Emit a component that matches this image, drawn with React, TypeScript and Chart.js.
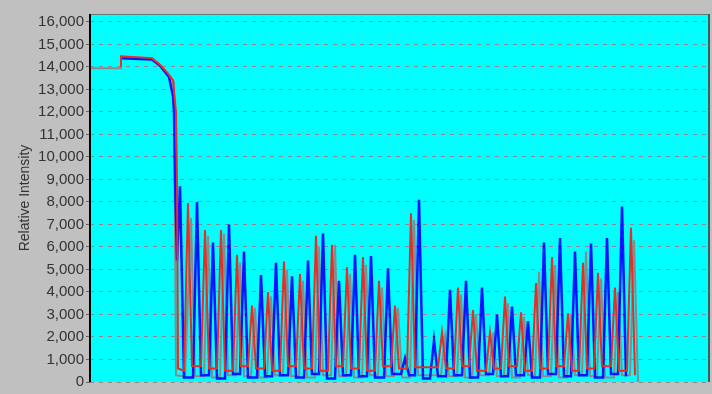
import React, { useEffect, useRef } from "react";
import { Chart, registerables } from "chart.js";

Chart.register(...registerables);

// y axis
const yMin = 0;
const yMax = 16350;
const yTickValues = [0, 1000, 2000, 3000, 4000, 5000, 6000, 7000, 8000, 9000, 10000, 11000, 12000, 13000, 14000, 15000, 16000];
const yTitle = "Relative Intensity";

// x positions are scan positions across the trace (0..620)
const xMax = 620;

// leading plateau (before the peaks start)
const grayLeadX = [0, 31, 31, 62, 70, 78, 83, 84, 86, 95];
const grayLeadY = [13940, 13940, 14440, 14380, 14090, 13700, 13400, 13300, 300, 250];
const redLeadX = [31, 31, 62, 70, 78, 83, 84, 86, 87, 88, 94];
const redLeadY = [14000, 14470, 14390, 14100, 13700, 13400, 12900, 12000, 9000, 600, 500];
const blueLeadX = [31, 62, 70, 79, 83, 84, 85, 87];
const blueLeadY = [14380, 14330, 14050, 13550, 12700, 12000, 9000, 5400];

// blue peaks
const bluePeakX = [90, 107, 123, 139, 154, 171, 186, 202, 218, 233, 249, 265, 281, 298, 315, 329, 344, 360, 376, 392, 407, 422, 438, 454, 470, 485, 501, 517, 532];
const bluePeakY = [8700, 8000, 6200, 7000, 5800, 4750, 5300, 4700, 5400, 6600, 4500, 5650, 5600, 5050, 1050, 8100, 1850, 4100, 4500, 4200, 3000, 3350, 2700, 6200, 6400, 5800, 6150, 6400, 7800];
const blueLowY = [200, 300, 150, 350, 200, 250, 300, 200, 350, 150, 300, 250, 200, 350, 300, 150, 250, 300, 200, 350, 250, 300, 200, 350, 250, 300, 200, 350, 250];

// red peaks
const redPeakX = [98, 115, 131, 147, 162, 178, 194, 210, 226, 242, 257, 273, 289, 305, 321, 352, 368, 383, 400, 415, 431, 446, 462, 478, 493, 508, 525, 541];
const redPeakY = [7950, 6750, 6750, 5650, 3400, 4000, 5350, 4800, 6500, 6100, 5100, 5550, 4500, 3400, 7500, 2200, 4200, 3200, 2200, 3800, 3100, 4400, 5550, 3050, 5300, 4850, 4200, 6850];
const redLowY = [700, 600, 500, 700, 600, 500, 700, 600, 500, 700, 600, 500, 700, 600, 650, 600, 700, 500, 600, 700, 500, 600, 700, 500, 600, 700, 500, 300];

// gray peaks
const grayPeakX = [101, 118, 134, 150, 165, 181, 197, 213, 229, 245, 260, 276, 292, 308, 324, 355, 371, 386, 403, 418, 434, 449, 465, 481, 496, 511, 528, 544];
const grayPeakY = [7300, 6500, 6600, 5300, 3300, 3800, 5000, 4500, 6000, 6100, 4800, 5200, 4200, 3300, 7200, 2000, 3900, 3000, 2200, 3500, 2900, 4900, 5200, 3000, 5800, 4600, 4000, 6300];
const grayLowY = [250, 200, 300, 250, 200, 300, 250, 200, 300, 250, 200, 300, 250, 200, 300, 250, 200, 300, 250, 200, 300, 250, 200, 300, 250, 200, 300, 0];

function buildTrace(leadX: number[], leadY: number[], px: number[], py: number[], low: number[]) {
  const pts: { x: number; y: number }[] = [];
  leadX.forEach((x, i) => pts.push({ x, y: leadY[i] }));
  px.forEach((x, i) => {
    if (i > 0) pts.push({ x: x - 4, y: low[i - 1] });
    pts.push({ x, y: py[i] });
    pts.push({ x: x + 4, y: low[i] });
  });
  return pts;
}

const plotBg = {
  id: "plotBg",
  beforeDatasetsDraw(chart: any) {
    const { ctx, chartArea: a } = chart;
    ctx.save();
    ctx.globalCompositeOperation = "destination-over";
    ctx.fillStyle = "#00ffff";
    ctx.fillRect(a.left, a.top, a.right - a.left, a.bottom - a.top);
    ctx.restore();
  },
  afterDraw(chart: any) {
    const { ctx, chartArea: a } = chart;
    ctx.save();
    ctx.lineWidth = 1;
    ctx.strokeStyle = "#5f7f7f";
    ctx.beginPath();
    ctx.moveTo(a.left, a.top + 0.5);
    ctx.lineTo(a.right, a.top + 0.5);
    ctx.stroke();
    ctx.lineWidth = 2;
    ctx.strokeStyle = "#3f5f5f";
    ctx.beginPath();
    ctx.moveTo(a.right - 1, a.top);
    ctx.lineTo(a.right - 1, a.bottom);
    ctx.stroke();
    ctx.strokeStyle = "#000000";
    ctx.beginPath();
    ctx.moveTo(a.left, a.top);
    ctx.lineTo(a.left, a.bottom);
    ctx.stroke();
    ctx.restore();
  },
};

export default function App() {
  const ref = useRef<HTMLCanvasElement | null>(null);
  useEffect(() => {
    if (!ref.current) return;
    const chart = new Chart(ref.current, {
      type: "line",
      data: {
        datasets: [
          {
            label: "red",
            data: buildTrace(redLeadX, redLeadY, redPeakX, redPeakY, redLowY),
            borderColor: "#e03028",
            borderWidth: 2,
            pointRadius: 0,
            tension: 0,
            order: 0,
          },
          {
            label: "blue",
            data: buildTrace(blueLeadX, blueLeadY, bluePeakX, bluePeakY, blueLowY),
            borderColor: "#0a14ff",
            borderWidth: 2.5,
            pointRadius: 0,
            tension: 0,
            order: 1,
          },
          {
            label: "gray",
            data: buildTrace(grayLeadX, grayLeadY, grayPeakX, grayPeakY, grayLowY),
            borderColor: "#8a8a8a",
            borderWidth: 2,
            pointRadius: 0,
            tension: 0,
            order: 2,
          },
        ],
      },
      options: {
        animation: false,
        responsive: false,
        maintainAspectRatio: false,
        layout: { padding: { left: 0, top: 14, right: 2, bottom: 12 } },
        plugins: { legend: { display: false }, tooltip: { enabled: false } },
        scales: {
          x: { type: "linear", min: 0, max: xMax, display: false },
          y: {
            min: yMin,
            max: yMax,
            afterFit: (s: any) => {
              s.width = 90;
            },
            afterBuildTicks: (s: any) => {
              s.ticks = yTickValues.map((v) => ({ value: v }));
            },
            ticks: {
              padding: 2,
              color: "#333333",
              font: { family: "'Liberation Sans', Arial, sans-serif", size: 15 },
              callback: (v: any) => Number(v).toLocaleString("en-US"),
            },
            grid: {
              color: "#8a8a8a",
              lineWidth: 1,
              drawTicks: true,
              tickLength: 4,
              tickColor: "#666666",
              tickBorderDash: [],
            },
            border: { display: false, dash: [4, 5] },
            title: {
              display: true,
              text: yTitle,
              color: "#333333",
              font: { family: "'Liberation Sans', Arial, sans-serif", size: 14 },
              padding: { top: 17, bottom: 0 },
            },
          },
        },
      },
      plugins: [plotBg],
    });
    return () => chart.destroy();
  }, []);
  return (
    <div style={{ position: "fixed", left: 0, top: 0, width: 712, height: 394, background: "#c0c0c0" }}>
      <canvas ref={ref} width={712} height={394} style={{ display: "block" }} />
    </div>
  );
}
